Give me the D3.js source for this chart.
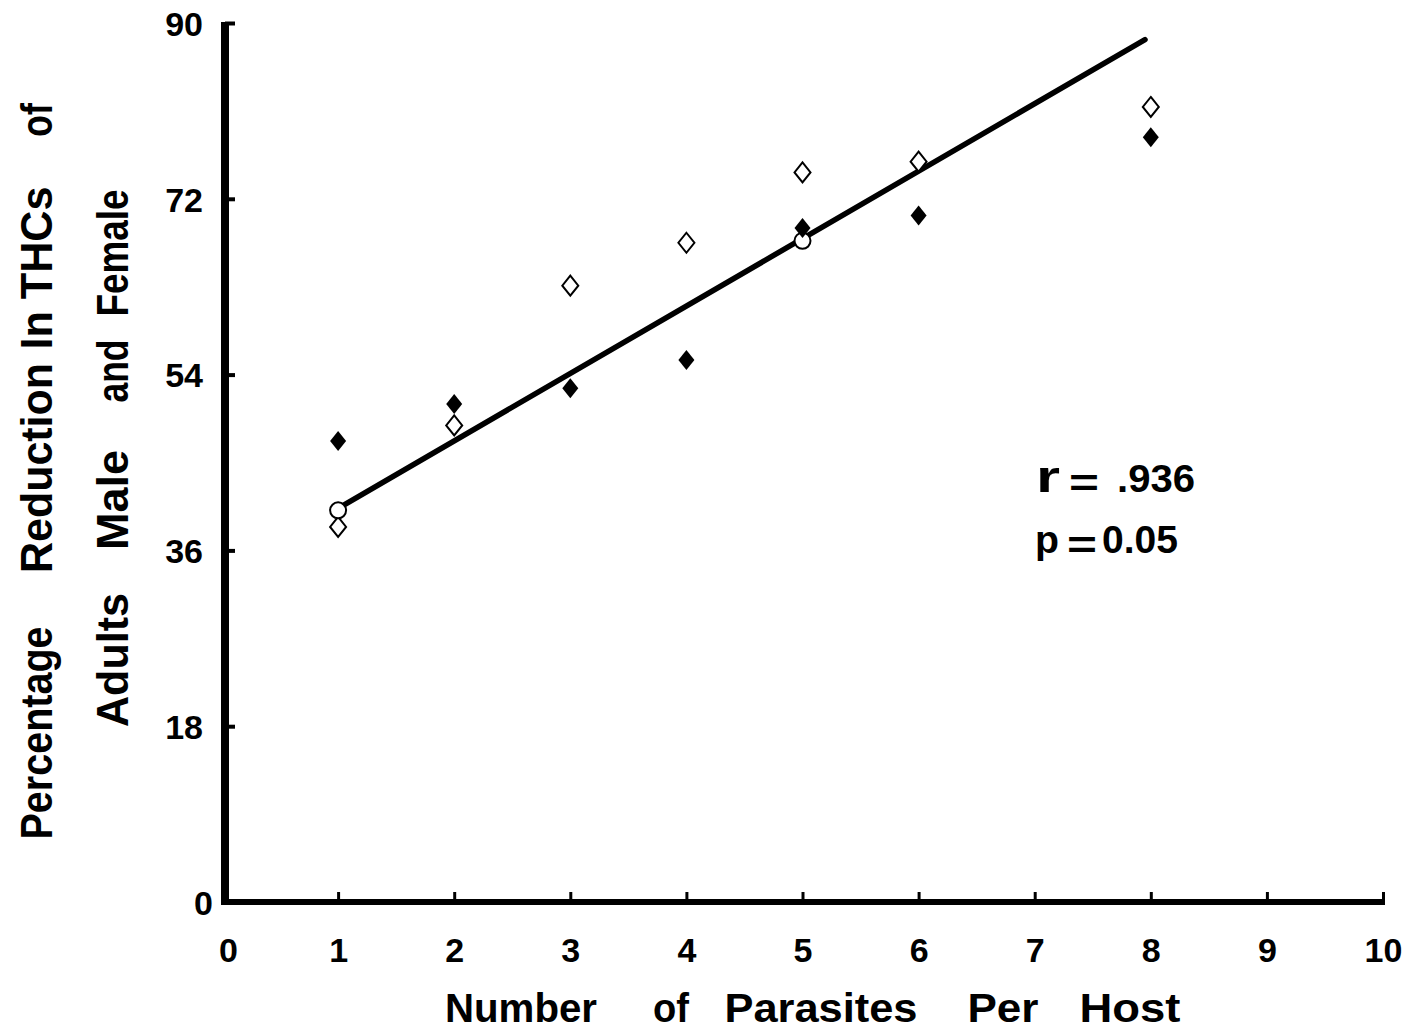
<!DOCTYPE html>
<html lang="en">
    <head>
        <meta charset="utf-8">
        <title>Parasites per host vs THC reduction</title>
        <script type="text/javascript" src="https://cdn.jsdelivr.net/npm/d3@7"></script>
        <style>
            body { margin: 0; background: #fff; }
            text { font-family: "Liberation Sans", Arial, sans-serif; font-weight: bold; fill: #000; }
        </style>
    </head>
    <body>
        <div class="chart"></div>
        <script type="text/javascript">
            // data
            var parasites = [1, 2, 3, 4, 5, 6, 8];
            var filledVals = [47.2, 51.0, 52.6, 55.5, 69.0, 70.3, 78.3];   // solid diamonds
            var openVals = [38.4, 48.8, 63.1, 67.5, 74.7, 75.8, 81.4];     // open diamonds
            var circleX = [1, 5];
            var circleVals = [40.1, 67.7];                                  // open circles
            var fitX = [1, 7.95];                                           // regression line ends
            var fitY = [40.3, 88.3];
            var xTicks = [0, 1, 2, 3, 4, 5, 6, 7, 8, 9, 10];
            var yTicks = [0, 18, 36, 54, 72, 90];

            var w = 1404, h = 1032;
            var svg = d3.select("div.chart").append("svg")
                        .attr("width", w).attr("height", h);

            var x = d3.scaleLinear().domain([0, 10]).range([222, 1383]);
            var y = d3.scaleLinear().domain([0, 90]).range([902, 23]);

            // y axis (ticks point inward)
            var yAxis = svg.append("g")
               .attr("transform", "translate(225,0)")
               .call(d3.axisLeft(y).tickValues(yTicks).tickSizeInner(-10).tickSizeOuter(0).tickPadding(22));
            yAxis.select(".domain").attr("stroke-width", 8).attr("stroke", "#000")
                 .attr("d", "M0," + (y(90) - 1) + "V" + (y(0) + 3));
            yAxis.selectAll(".tick line").attr("stroke-width", 4).attr("stroke", "#000");
            yAxis.selectAll(".tick text").attr("font-size", 34).attr("dy", "0.36em");
            yAxis.selectAll(".tick").filter(function(d){return d === 0;}).select("text").attr("x", -12);

            // x axis
            var xAxis = svg.append("g")
               .attr("transform", "translate(0,902)")
               .call(d3.axisBottom(x).tickValues(xTicks).tickSizeInner(-10).tickSizeOuter(0).tickPadding(36));
            xAxis.select(".domain").attr("stroke-width", 6).attr("stroke", "#000")
                 .attr("d", "M" + (221) + ",0H" + (x(10) + 2));
            xAxis.selectAll(".tick line").attr("stroke-width", 3).attr("stroke", "#000");
            xAxis.selectAll(".tick").filter(function(d){return d === 0;}).select("line").remove();
            xAxis.selectAll(".tick text").attr("font-size", 34);
            xAxis.selectAll(".tick").filter(function(d){return d === 0;}).select("text").attr("x", 6);

            // regression line
            svg.append("line")
               .attr("x1", x(fitX[0])).attr("y1", y(fitY[0]))
               .attr("x2", x(fitX[1])).attr("y2", y(fitY[1]))
               .attr("stroke", "#000").attr("stroke-width", 5.5).attr("stroke-linecap", "round");

            var diamond = "M0,-10L8,0L0,10L-8,0Z";

            svg.selectAll("path.open")
               .data(parasites)
               .enter()
               .append("path")
               .attr("class", "open")
               .attr("d", diamond)
               .attr("transform", function(d, i){return "translate(" + x(d) + "," + y(openVals[i]) + ")";})
               .attr("fill", "#fff").attr("stroke", "#000").attr("stroke-width", 2);

            svg.selectAll("circle.open")
               .data(circleX)
               .enter()
               .append("circle")
               .attr("cx", function(d){return x(d);})
               .attr("cy", function(d, i){return y(circleVals[i]);})
               .attr("r", 8)
               .attr("fill", "#fff").attr("stroke", "#000").attr("stroke-width", 2);

            svg.selectAll("path.filled")
               .data(parasites)
               .enter()
               .append("path")
               .attr("class", "filled")
               .attr("d", diamond)
               .attr("transform", function(d, i){return "translate(" + x(d) + "," + y(filledVals[i]) + ")";})
               .attr("fill", "#000");

            // axis titles, word groups spaced as in the print: [text, centre, width]
            var xTitle = [["Number", 521, 152], ["of", 671, 36], ["Parasites", 821, 193], ["Per", 1003, 71], ["Host", 1130, 101]];
            var yTitle1 = [["Percentage", 733, 213], ["Reduction", 468, 210], ["In THCs", 268, 163], ["of", 120, 34]];
            var yTitle2 = [["Adults", 660, 134], ["Male", 500, 100], ["and", 371, 63], ["Female", 253, 127]];

            function words(list, place, size) {
                list.forEach(function(t){
                    svg.append("text")
                       .attr("transform", place(t[1]))
                       .attr("x", -t[2] / 2)
                       .attr("font-size", size)
                       .attr("textLength", t[2])
                       .attr("lengthAdjust", "spacingAndGlyphs")
                       .text(t[0]);
                });
            }
            words(xTitle, function(c){return "translate(" + c + ",1022)";}, 40);
            words(yTitle1, function(c){return "translate(52," + c + ") rotate(-90)";}, 44);
            words(yTitle2, function(c){return "translate(128," + c + ") rotate(-90)";}, 44);

            // statistics: [text, left, baseline, size, width]
            var stats = [["r", 1036, 492, 44, 24], ["=", 1069, 496, 38, 30], [".936", 1117, 492, 38, 78],
                         ["p", 1035, 553, 38, 24], ["=", 1067, 558, 38, 30], ["0.05", 1102, 553, 38, 76]];
            stats.forEach(function(s){
                svg.append("text")
                   .attr("x", s[1]).attr("y", s[2])
                   .attr("font-size", s[3])
                   .attr("textLength", s[4])
                   .attr("lengthAdjust", "spacingAndGlyphs")
                   .text(s[0]);
            });
        </script>
    </body>
</html>
